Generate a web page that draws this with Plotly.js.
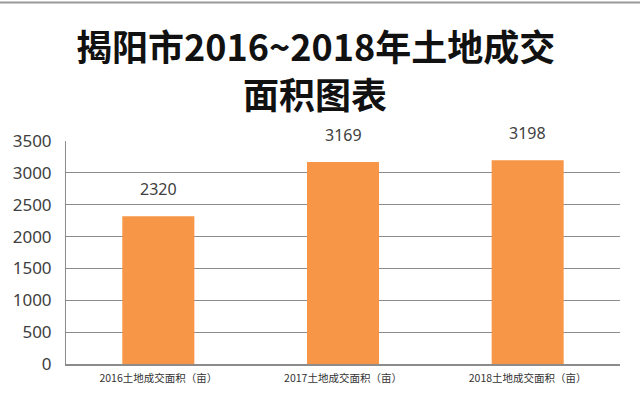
<!DOCTYPE html>
<html>
<head>
<meta charset="utf-8">
<script src="https://cdn.plot.ly/plotly-3.0.1.min.js"></script>
<style>html,body{margin:0;padding:0;background:#fff;}#chart{width:640px;height:395px;}</style>
</head>
<body>
<div id="chart"></div>
<script>
const categories = ['2016土地成交面积（亩）', '2017土地成交面积（亩）', '2018土地成交面积（亩）'];
const values = [2320, 3169, 3198];
const yTicks = [0, 500, 1000, 1500, 2000, 2500, 3000, 3500];
const titleLines = ['揭阳市2016~2018年土地成交', '面积图表'];

const trace = {
  type: 'bar',
  x: categories,
  y: values,
  marker: {color: '#F79646'},
  hoverinfo: 'none'
};

const annotations = categories.map((c, i) => ({
  x: c, y: values[i], xref: 'x', yref: 'y',
  text: String(values[i]),
  showarrow: false,
  yanchor: 'bottom',
  yshift: 14,
  font: {family: 'Noto Sans, sans-serif', size: 16, color: '#404040'}
}));

// title lines, centred at given pixel rows
const titleRows = [45, 93];
const plotH = 395 - 141 - 31;
titleLines.forEach((t, i) => {
  annotations.push({
    xref: 'paper', yref: 'paper',
    x: (315 - 66) / 554, y: (395 - 31 - titleRows[i]) / plotH,
    xanchor: 'center', yanchor: 'middle',
    text: t, showarrow: false,
    font: {family: 'Noto Sans CJK SC, sans-serif', size: 36, color: '#111111', weight: 'bold'}
  });
});

const layout = {
  width: 640, height: 395,
  margin: {l: 66, r: 20, t: 141, b: 31},
  paper_bgcolor: '#ffffff',
  plot_bgcolor: '#ffffff',
  showlegend: false,
  bargap: 0.61,
  xaxis: {
    showgrid: false,
    showline: true, linecolor: '#8c8c8c', linewidth: 1.5,
    ticks: '',
    ticklabelstandoff: 4,
    tickfont: {family: 'Noto Sans CJK SC, sans-serif', size: 10.5, color: '#333333'},
    fixedrange: true
  },
  yaxis: {
    range: [0, 3500],
    tickvals: yTicks,
    ticktext: yTicks.map(String),
    showgrid: true, gridcolor: '#8c8c8c', gridwidth: 1,
    showline: true, linecolor: '#8c8c8c', linewidth: 1,
    zeroline: false,
    ticks: '',
    ticklen: 0,
    ticklabelstandoff: 10,
    tickfont: {family: 'Noto Sans, sans-serif', size: 17, color: '#404040'},
    fixedrange: true
  },
  annotations: annotations,
  shapes: [{
    type: 'line', xref: 'paper', yref: 'paper',
    x0: -0.2, x1: 1.1, y0: 1 + 139/224, y1: 1 + 139/224,
    line: {color: '#999999', width: 2}
  }]
};

Plotly.newPlot('chart', [trace], layout, {displayModeBar: false, staticPlot: true});
</script>
</body>
</html>
